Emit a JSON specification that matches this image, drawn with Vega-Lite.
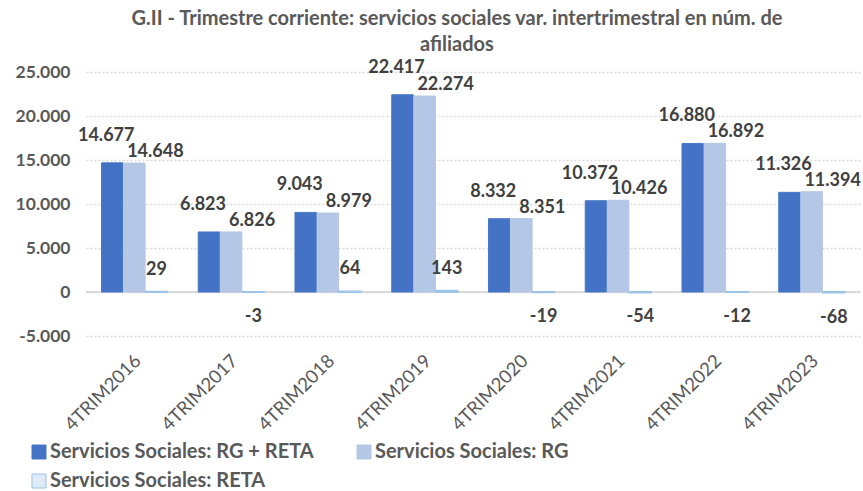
{
  "$schema": "https://vega.github.io/schema/vega-lite/v6.json",
  "width": 774,
  "height": 264,
  "autosize": {"type": "none"},
  "padding": {"left": 86, "top": 72, "right": 3, "bottom": 155},
  "background": "white",
  "title": {
    "text": ["G.II - Trimestre corriente: servicios sociales var. intertrimestral en núm. de", "afiliados"],
    "font": "Lato",
    "fontSize": 20,
    "fontWeight": "bold",
    "color": "#595959",
    "lineHeight": 26,
    "anchor": "middle",
    "frame": "group",
    "dx": -16,
    "offset": 4
  },
  "data": {
    "values": [
      {"year": "4TRIM2016", "series": "Servicios Sociales: RG + RETA", "value": 14677},
      {"year": "4TRIM2016", "series": "Servicios Sociales: RG", "value": 14648},
      {"year": "4TRIM2016", "series": "Servicios Sociales: RETA", "value": 29},
      {"year": "4TRIM2017", "series": "Servicios Sociales: RG + RETA", "value": 6823},
      {"year": "4TRIM2017", "series": "Servicios Sociales: RG", "value": 6826},
      {"year": "4TRIM2017", "series": "Servicios Sociales: RETA", "value": -3},
      {"year": "4TRIM2018", "series": "Servicios Sociales: RG + RETA", "value": 9043},
      {"year": "4TRIM2018", "series": "Servicios Sociales: RG", "value": 8979},
      {"year": "4TRIM2018", "series": "Servicios Sociales: RETA", "value": 64},
      {"year": "4TRIM2019", "series": "Servicios Sociales: RG + RETA", "value": 22417},
      {"year": "4TRIM2019", "series": "Servicios Sociales: RG", "value": 22274},
      {"year": "4TRIM2019", "series": "Servicios Sociales: RETA", "value": 143},
      {"year": "4TRIM2020", "series": "Servicios Sociales: RG + RETA", "value": 8332},
      {"year": "4TRIM2020", "series": "Servicios Sociales: RG", "value": 8351},
      {"year": "4TRIM2020", "series": "Servicios Sociales: RETA", "value": -19},
      {"year": "4TRIM2021", "series": "Servicios Sociales: RG + RETA", "value": 10372},
      {"year": "4TRIM2021", "series": "Servicios Sociales: RG", "value": 10426},
      {"year": "4TRIM2021", "series": "Servicios Sociales: RETA", "value": -54},
      {"year": "4TRIM2022", "series": "Servicios Sociales: RG + RETA", "value": 16880},
      {"year": "4TRIM2022", "series": "Servicios Sociales: RG", "value": 16892},
      {"year": "4TRIM2022", "series": "Servicios Sociales: RETA", "value": -12},
      {"year": "4TRIM2023", "series": "Servicios Sociales: RG + RETA", "value": 11326},
      {"year": "4TRIM2023", "series": "Servicios Sociales: RG", "value": 11394},
      {"year": "4TRIM2023", "series": "Servicios Sociales: RETA", "value": -68}
    ]
  },
  "encoding": {
    "x": {"field": "year", "type": "nominal", "scale": {"paddingInner": 0.32, "paddingOuter": 0.16}, "axis": {"title": null}},
    "xOffset": {"field": "series", "type": "nominal", "scale": {"domain": ["Servicios Sociales: RG + RETA", "Servicios Sociales: RG", "Servicios Sociales: RETA"], "paddingInner": 0.03}},
    "y": {"field": "value", "type": "quantitative", "scale": {"domain": [-5000, 25000], "nice": false}, "axis": {"title": null, "values": [-5000, 0, 5000, 10000, 15000, 20000, 25000], "format": ",d"}}
  },
  "layer": [
    {
      "data": {"values": [{"zero": 0}]},
      "mark": {"type": "rule", "color": "#D0D0D0", "strokeWidth": 1.5},
      "encoding": {"x": null, "xOffset": null, "y": {"field": "zero", "type": "quantitative"}}
    },
    {
      "mark": {"type": "bar"},
      "encoding": {
        "fill": {"field": "series", "type": "nominal", "title": null, "scale": {"domain": ["Servicios Sociales: RG + RETA", "Servicios Sociales: RG", "Servicios Sociales: RETA"], "range": ["#4472C4", "#B4C7E7", "#DEEBF7"]}},
        "stroke": {"field": "series", "type": "nominal", "title": null, "scale": {"domain": ["Servicios Sociales: RG + RETA", "Servicios Sociales: RG", "Servicios Sociales: RETA"], "range": ["#4A78C8", "#B4C7E7", "#9DC3E6"]}},
        "strokeWidth": {"condition": {"test": "datum.series === 'Servicios Sociales: RETA'", "value": 2}, "value": 1}
      }
    },
    {
      "transform": [{"filter": "datum.series === 'Servicios Sociales: RG + RETA'"}],
      "mark": {"type": "text", "font": "Lato", "fontWeight": "bold", "fontSize": 18, "color": "#404040", "baseline": "middle", "dy": -27, "dx": -6},
      "encoding": {"text": {"field": "value", "type": "quantitative", "format": ",d"}}
    },
    {
      "transform": [{"filter": "datum.series === 'Servicios Sociales: RG'"}],
      "mark": {"type": "text", "font": "Lato", "fontWeight": "bold", "fontSize": 18, "color": "#404040", "baseline": "middle", "dy": -11, "dx": 21},
      "encoding": {"text": {"field": "value", "type": "quantitative", "format": ",d"}}
    },
    {
      "transform": [{"filter": "datum.series === 'Servicios Sociales: RETA' && datum.value >= 0"}],
      "mark": {"type": "text", "font": "Lato", "fontWeight": "bold", "fontSize": 18, "color": "#404040", "baseline": "middle", "dy": -22},
      "encoding": {"text": {"field": "value", "type": "quantitative", "format": ",d"}}
    },
    {
      "transform": [{"filter": "datum.series === 'Servicios Sociales: RETA' && datum.value < 0"}],
      "mark": {"type": "text", "font": "Lato", "fontWeight": "bold", "fontSize": 18, "color": "#404040", "baseline": "middle", "dy": 25},
      "encoding": {"text": {"field": "value", "type": "quantitative", "format": ",d"}}
    }
  ],
  "config": {
    "locale": {"number": {"decimal": ",", "thousands": ".", "grouping": [3], "currency": ["", " €"], "minus": "-"}},
    "view": {"stroke": null},
    "axisX": {"labelAngle": -45, "labelFont": "Lato", "labelFontSize": 18.5, "labelColor": "#595959", "domain": false, "ticks": false, "labelPadding": 15, "labelOffset": -3, "grid": false},
    "axisY": {"labelFont": "Lato", "labelFontSize": 17.5, "labelFontWeight": "bold", "labelColor": "#595959", "domain": false, "ticks": false, "labelPadding": 16, "grid": true, "gridColor": "#D9D9D9", "gridDash": [2, 2], "gridWidth": 1.5},
    "legend": {"orient": "none", "legendX": -57, "legendY": 370, "direction": "horizontal", "columns": 2, "columnPadding": 40, "rowPadding": 9, "symbolType": "square", "symbolSize": 196, "symbolStrokeWidth": 1, "labelFont": "Lato", "labelFontSize": 20, "labelFontWeight": "bold", "labelColor": "#595959", "labelOffset": 1, "labelLimit": 400}
  }
}
